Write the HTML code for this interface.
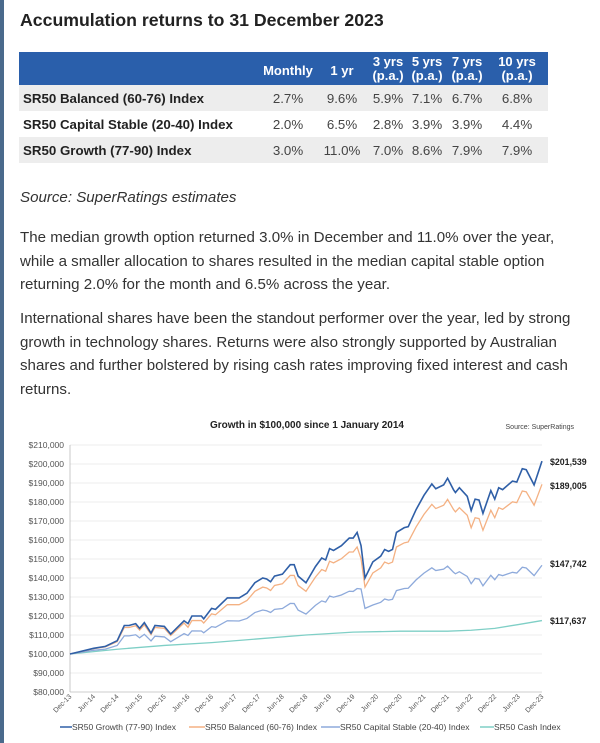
<!DOCTYPE html>
<html><head><meta charset="utf-8"><style>
body{margin:0;width:600px;height:743px;background:#fff;position:relative;overflow:hidden;font-family:"Liberation Sans",Arial,sans-serif;color:#333}
.bar{position:absolute;left:0;top:0;width:4px;height:743px;background:#4a6a8c}
.a{position:absolute;white-space:nowrap}
h1{position:absolute;left:20px;top:10px;margin:0;font-size:17.7px;font-weight:bold;color:#222}
.tb{position:absolute;left:19px;width:529px}
.hd{top:52px;height:33px;background:#2a5fab;color:#fff;font-weight:bold;font-size:13px}
.row{height:26px;font-size:13.3px}
.row .l{position:absolute;left:4px;top:6px;font-weight:bold;color:#222}
.c{position:absolute;text-align:center;width:60px}
.row .c{color:#444}
.p{font-size:15.1px;line-height:23.5px;color:#333}
</style></head><body>
<div class="bar"></div>
<h1>Accumulation returns to 31 December 2023</h1>
<div class="tb hd">
<div class="c" style="left:239px;top:11px">Monthly</div>
<div class="c" style="left:293px;top:11px">1 yr</div>
<div class="c" style="left:339px;top:3px;line-height:14px">3 yrs<br>(p.a.)</div>
<div class="c" style="left:378px;top:3px;line-height:14px">5 yrs<br>(p.a.)</div>
<div class="c" style="left:418px;top:3px;line-height:14px">7 yrs<br>(p.a.)</div>
<div class="c" style="left:468px;top:3px;line-height:14px">10 yrs<br>(p.a.)</div>
</div>
<div class="tb row" style="top:85px;background:#ededed">
<div class="l">SR50 Balanced (60-76) Index</div>
<div class="c" style="left:239px;top:6px">2.7%</div><div class="c" style="left:293px;top:6px">9.6%</div><div class="c" style="left:339px;top:6px">5.9%</div><div class="c" style="left:378px;top:6px">7.1%</div><div class="c" style="left:418px;top:6px">6.7%</div><div class="c" style="left:468px;top:6px">6.8%</div>
</div>
<div class="tb row" style="top:111px;background:#fff">
<div class="l">SR50 Capital Stable (20-40) Index</div>
<div class="c" style="left:239px;top:6px">2.0%</div><div class="c" style="left:293px;top:6px">6.5%</div><div class="c" style="left:339px;top:6px">2.8%</div><div class="c" style="left:378px;top:6px">3.9%</div><div class="c" style="left:418px;top:6px">3.9%</div><div class="c" style="left:468px;top:6px">4.4%</div>
</div>
<div class="tb row" style="top:137px;background:#ededed">
<div class="l">SR50 Growth (77-90) Index</div>
<div class="c" style="left:239px;top:6px">3.0%</div><div class="c" style="left:293px;top:6px">11.0%</div><div class="c" style="left:339px;top:6px">7.0%</div><div class="c" style="left:378px;top:6px">8.6%</div><div class="c" style="left:418px;top:6px">7.9%</div><div class="c" style="left:468px;top:6px">7.9%</div>
</div>
<div class="a p" style="left:20px;top:186px;font-style:italic">Source: SuperRatings estimates</div>
<div class="a p" style="left:20px;top:226px">The median growth option returned 3.0% in December and 11.0% over the year,<br>while a smaller allocation to shares resulted in the median capital stable option<br>returning 2.0% for the month and 6.5% across the year.</div>
<div class="a p" style="left:20px;top:307px">International shares have been the standout performer over the year, led by strong<br>growth in technology shares. Returns were also strongly supported by Australian<br>shares and further bolstered by rising cash rates improving fixed interest and cash<br>returns.</div>
<svg class="a" style="left:0;top:0" width="600" height="743" font-family="Liberation Sans, Arial, sans-serif">
<text x="307" y="428" font-size="10" font-weight="bold" text-anchor="middle" fill="#222">Growth in $100,000 since 1 January 2014</text>
<text x="574" y="429" font-size="7" text-anchor="end" fill="#444">Source: SuperRatings</text>
<g id="grid" stroke="#e6e6e6" stroke-width="0.7"></g>
<line x1="70" y1="445" x2="70" y2="692" stroke="#bbb" stroke-width="0.8"/>
<line x1="70" y1="692" x2="542" y2="692" stroke="#bbb" stroke-width="0.8"/>
<g id="yl" font-size="8.5" fill="#555" text-anchor="end">
<text x="64" y="448">$210,000</text><text x="64" y="467">$200,000</text><text x="64" y="486">$190,000</text><text x="64" y="505">$180,000</text><text x="64" y="524">$170,000</text><text x="64" y="543">$160,000</text><text x="64" y="562">$150,000</text><text x="64" y="581">$140,000</text><text x="64" y="600">$130,000</text><text x="64" y="619">$120,000</text><text x="64" y="638">$110,000</text><text x="64" y="657">$100,000</text><text x="64" y="676">$90,000</text><text x="64" y="695">$80,000</text>
</g>
<g id="xl" font-size="7" fill="#555" text-anchor="end"></g>
<polyline id="cash" fill="none" stroke="#7fcfc6" stroke-width="1.3"/>
<polyline id="cap" fill="none" stroke="#8eaadb" stroke-width="1.3"/>
<polyline id="bal" fill="none" stroke="#f4b183" stroke-width="1.3"/>
<polyline id="gro" fill="none" stroke="#2f5fa7" stroke-width="1.6"/>
<g font-size="8.8" font-weight="bold" fill="#222">
<text x="550" y="465">$201,539</text><text x="550" y="489">$189,005</text><text x="550" y="567">$147,742</text><text x="550" y="624">$117,637</text>
</g>
<g font-size="8.5" fill="#444">
<line x1="60" y1="727" x2="72" y2="727" stroke="#2f5fa7" stroke-width="1.5"/><text x="72" y="730">SR50 Growth (77-90) Index</text>
<line x1="189" y1="727" x2="205" y2="727" stroke="#f4b183" stroke-width="1.5"/><text x="205" y="730">SR50 Balanced (60-76) Index</text>
<line x1="321" y1="727" x2="340" y2="727" stroke="#8eaadb" stroke-width="1.5"/><text x="340" y="730">SR50 Capital Stable (20-40) Index</text>
<line x1="480" y1="727" x2="494" y2="727" stroke="#7fcfc6" stroke-width="1.5"/><text x="494" y="730">SR50 Cash Index</text>
</g>
</svg>
<script>
var X=function(m){return 70+m*3.933},Y=function(v){return 692-(v-80)*1.9};
var g=document.getElementById('grid'),s='';
for(var v=90;v<=210;v+=10)s+='<line x1="70" x2="542" y1="'+Y(v)+'" y2="'+Y(v)+'"/>';g.innerHTML=s;
var xs=['Dec-13','Jun-14','Dec-14','Jun-15','Dec-15','Jun-16','Dec-16','Jun-17','Dec-17','Jun-18','Dec-18','Jun-19','Dec-19','Jun-20','Dec-20','Jun-21','Dec-21','Jun-22','Dec-22','Jun-23','Dec-23'];
s='';xs.forEach(function(t,i){var x=X(i*6)+2;s+='<text transform="translate('+x+',697) rotate(-45)">'+t+'</text>'});document.getElementById('xl').innerHTML=s;
var G=[[0,100],[2,101],[6,103],[9,104],[12,107],[13.8,115],[15,115],[16.7,116],[17.7,113.5],[18.9,116.5],[20.6,111],[21.6,115],[24,114.5],[25.6,110.5],[29,117.5],[30,116],[31,120],[33.4,120],[34,118.5],[36,124],[37,123.5],[40,129.5],[43,129.5],[45,132],[47,137.5],[49,140],[50,139.5],[51,138],[52,141],[54,142],[56,147],[57,147],[58,141],[60,137.5],[62.4,146],[64,150.5],[65,149.5],[66,155.5],[67,154.5],[69,157],[71,161],[72,161],[73,164],[74,157],[75,140],[77,148.5],[79,151.5],[80,155],[81,154],[82,155],[83,164],[85,166.5],[86,167],[88,176],[90,183.5],[92,189.5],[93,187],[95,189],[96,192.5],[97.5,186.5],[98,185],[99,187.5],[101,183],[102,175.5],[103,181.5],[104,181],[105,174],[107,186],[108,181.5],[109,187.5],[110,186.5],[112.5,191],[113.6,190.5],[115,197.5],[116,197],[118,189],[120,201.5]];
var C=[[0,100],[12,102.5],[24,104.5],[36,106],[48,108],[60,110],[72,111.5],[84,112],[96,112],[102,112.5],[108,113.5],[114,115.5],[120,117.6]];
function pts(a,f){return a.map(function(p){return X(p[0])+','+Y(f(p))}).join(' ')}
document.getElementById('gro').setAttribute('points',pts(G,function(p){return p[1]}));
document.getElementById('bal').setAttribute('points',pts(G,function(p){return 100+(p[1]-100)*(p[0]<30?0.93:0.88)}));
document.getElementById('cap').setAttribute('points',pts(G,function(p){var r=0.66-0.2*p[0]/120;if(p[0]>=74&&p[0]<=76)r=0.6;return 100+(p[1]-100)*r}));
document.getElementById('cash').setAttribute('points',pts(C,function(p){return p[1]}));
</script>
</body></html>
